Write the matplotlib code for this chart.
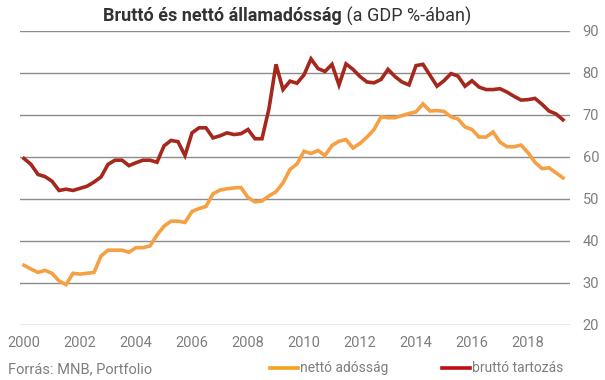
import matplotlib.pyplot as plt
import numpy as np

plt.rcParams['font.family'] = ['Roboto', 'DejaVu Sans']

# quarterly data, 2000Q1 - 2019Q2 (% of GDP)
brutto = [59.6, 58.2, 55.8, 55.3, 54.2, 52.0, 52.3, 52.0, 52.5, 53.0,
          54.0, 55.2, 58.2, 59.2, 59.2, 57.9, 58.6, 59.2, 59.2, 58.7,
          62.6, 63.9, 63.6, 60.3, 65.7, 66.9, 66.9, 64.5, 65.0, 65.7,
          65.3, 65.5, 66.5, 64.3, 64.3, 71.5, 82.0, 76.0,
          78.0, 77.5, 79.5, 83.3, 81.0, 80.3, 82.0, 77.1, 82.1, 80.8,
          79.1, 77.8, 77.6, 78.4, 80.8, 79.1, 77.8, 77.1, 81.7, 82.0,
          79.4, 76.8, 78.1, 79.8, 79.2, 76.8, 78.1, 76.6, 76.0, 76.0,
          76.2, 75.4, 74.4, 73.5, 73.6, 73.9, 72.5, 70.9, 70.2, 68.8]
netto = [34.2, 33.3, 32.5, 33.0, 32.3, 30.5, 29.6, 32.3, 32.1, 32.3,
         32.5, 36.4, 37.8, 37.8, 37.8, 37.3, 38.4, 38.4, 38.8, 41.4,
         43.5, 44.7, 44.7, 44.4, 47.0, 47.7, 48.2, 51.2, 52.1, 52.4,
         52.6, 52.7, 50.3, 49.3, 49.5, 50.7, 51.7, 53.8,
         57.0, 58.3, 61.3, 60.8, 61.5, 60.3, 62.7, 63.7, 64.1, 62.1,
         63.2, 64.7, 66.5, 69.5, 69.3, 69.3, 69.8, 70.3, 70.7, 72.6,
         70.9, 71.0, 70.8, 69.5, 69.0, 67.1, 66.5, 64.7, 64.7, 65.9,
         63.5, 62.4, 62.4, 62.8, 61.0, 58.7, 57.2, 57.4, 56.2, 55.0]
years = 2000 + np.arange(len(brutto)) / 4
xticks = list(range(2000, 2019, 2))
yticks = [20, 30, 40, 50, 60, 70, 80, 90]

fig = plt.figure(figsize=(6.05, 3.8), dpi=100)
ax = fig.add_axes([20/605, 1 - 325/380, 550/605, (325 - 30.7)/380])

for y in yticks:
    ax.axhline(y, color='#8c8c8c', lw=1, zorder=1)

ax.plot(years, netto, color='#f5a042', lw=2.6, zorder=3, solid_joinstyle='miter')
ax.plot(years, brutto, color='#a6281c', lw=2.6, zorder=3, solid_joinstyle='miter')

ax.set_xlim(2000 - 4/28, 2000 + 550/28 - 4/28)
ax.set_ylim(20, 90)
ax.set_xticks(xticks)
ax.set_xticklabels([str(t) for t in xticks])
ax.set_yticks(yticks)
ax.yaxis.tick_right()
ax.tick_params(axis='both', length=0, labelsize=10.5, colors='#7f7f7f')
ax.tick_params(axis='y', pad=9)
ax.tick_params(axis='x', pad=8)
for s in ax.spines.values():
    s.set_visible(False)

# title: bold part + normal part
fig.text(342/605, 1 - 16/380, 'Bruttó és nettó államadósság', ha='right', va='center',
         fontsize=13, fontweight='bold', color='#333333')
fig.text(342/605, 1 - 16/380, ' (a GDP %-ában)', ha='left', va='center',
         fontsize=13, color='#333333')

fig.text(8/605, 1 - 369/380, 'Forrás: MNB, Portfolio', ha='left', va='center',
         fontsize=10.5, color='#7f7f7f')

# legend
fig.add_artist(plt.Line2D([270/605, 298/605], [1 - 368/380] * 2, color='#f7a21b', lw=2.6))
fig.text(300/605, 1 - 368/380, 'nettó adósság', ha='left', va='center',
         fontsize=10, color='#7f7f7f')
fig.add_artist(plt.Line2D([442/605, 470/605], [1 - 368/380] * 2, color='#c00d0d', lw=2.6))
fig.text(472/605, 1 - 368/380, 'bruttó tartozás', ha='left', va='center',
         fontsize=10, color='#7f7f7f')

fig.savefig('out.png', dpi=100)
